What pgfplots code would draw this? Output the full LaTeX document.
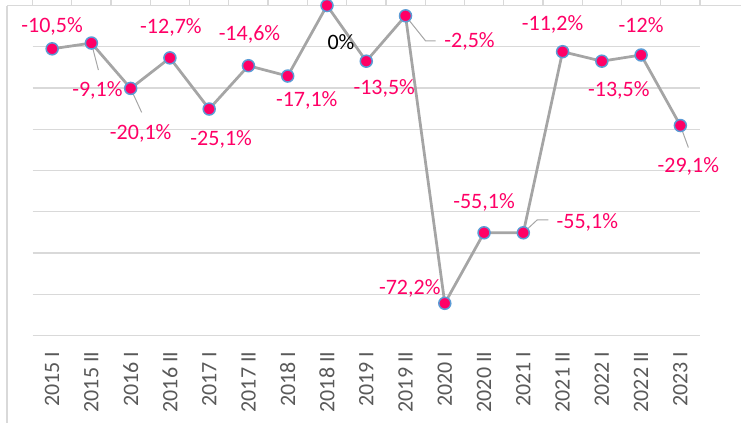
\documentclass[border=0pt]{standalone}
\usepackage{pgfplots}
\pgfplotsset{compat=1.18}
\usepackage{pgfplotstable}
\usepackage{fontspec}
\setmainfont{Carlito}
\definecolor{lab}{RGB}{255,0,102}
\definecolor{mk}{RGB}{255,0,102}
\definecolor{mkedge}{RGB}{91,155,213}
\definecolor{ln}{RGB}{165,165,165}
\definecolor{grd}{RGB}{217,217,217}
\definecolor{txt}{RGB}{89,89,89}
\definecolor{ldr}{RGB}{166,166,166}

\pgfplotstableread{
x y lab dx dy c
0 -10.5 -10,5 0 22 0
1 -9.1 -9,1 6 -47 0
2 -20.1 -20,1 10 -45 0
3 -12.7 -12,7 1 30 0
4 -25.1 -25,1 12 -30 0
5 -14.6 -14,6 1 31 0
6 -17.1 -17,1 19 -24 0
7 0 0 14 -37 1
8 -13.5 -13,5 18 -27 0
9 -2.5 -2,5 64 -26 0
10 -72.2 -72,2 -35 15 0
11 -55.1 -55,1 0 30 0
12 -55.1 -55,1 64 10 0
13 -11.2 -11,2 -10 27 0
14 -13.5 -13,5 17 -29 0
15 -12 -12 0 30 0
16 -29.1 -29,1 8 -41 0
}\datatable

\begin{document}
\begin{tikzpicture}
\useasboundingbox (0,0) rectangle (741bp,-423bp);
\draw[grd, line width=1.3bp] (7bp,-5.5bp) -- (7bp,-430bp);
\draw[grd, line width=1.3bp] (7bp,-5.5bp) -- (745bp,-5.5bp);
\begin{axis}[
  at={(32.5bp,-5.5bp)}, anchor=north west,
  scale only axis, width=667.5bp, height=330bp,
  xmin=-0.5, xmax=16.5, ymin=-80, ymax=0,
  clip=false,
  axis line style={draw=none},
  tick style={draw=none},
  major tick length=0pt,
  xtick={0,...,16},
  xticklabels={2015 I,2015 II,2016 I,2016 II,2017 I,2017 II,2018 I,2018 II,2019 I,2019 II,2020 I,2020 II,2021 I,2021 II,2022 I,2022 II,2023 I},
  xticklabel style={rotate=90, anchor=east, inner sep=0pt, font=\fontsize{22bp}{26bp}\selectfont, text=txt},
  xticklabel shift=16bp,
  ytick={-80,-70,...,0},
  yticklabels={},
  ymajorgrids,
  grid style={grd, line width=1.3bp},
]
\addplot[ln, line width=2.75bp, mark=*, mark size=6bp,
  mark options={fill=mk, draw=mkedge, line width=1.5bp},
  point meta=explicit symbolic,
  visualization depends on={\thisrow{dx}\as\dx},
  visualization depends on={\thisrow{dy}\as\dy},
  visualization depends on={\thisrow{c}\as\lc},
  nodes near coords={\ifdim\lc pt>0.5pt\color{black}\fi\pgfplotspointmeta\%},
  nodes near coords style={anchor=center, xshift=\dx bp, yshift=\dy bp, text=lab, inner sep=0pt, font=\fontsize{22bp}{26bp}\selectfont},
] table[x=x,y=y,meta=lab]{\datatable};
\draw[ldr, line width=1bp] (axis cs:1,-9.1) -- ++(7bp,-27bp);
\draw[ldr, line width=1bp] (axis cs:2,-20.1) -- ++(11bp,-24bp);
\draw[ldr, line width=1bp] (axis cs:9,-2.5) -- ++(20bp,-25bp) -- ++(10bp,0bp);
\draw[ldr, line width=1bp] (axis cs:12,-55.1) -- ++(14bp,13bp) -- ++(11bp,0bp);
\draw[ldr, line width=1bp] (axis cs:16,-29.1) -- ++(8bp,-22bp);
\pgfplotsinvokeforeach{-0.5,0.5,...,16.5}{
  \draw[grd, line width=1.3bp] (axis cs:#1,0) -- ++(0bp,8bp);
}
\end{axis}
\end{tikzpicture}
\end{document}
